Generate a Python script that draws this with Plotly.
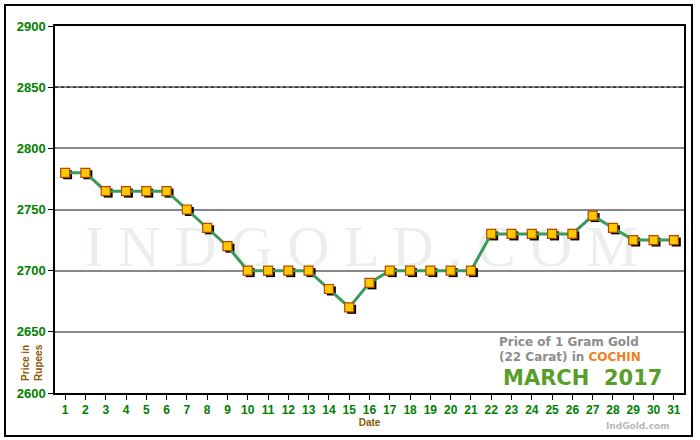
import plotly.graph_objects as go

days = list(range(1, 32))
prices = [2780, 2780, 2765, 2765, 2765, 2765, 2750, 2735, 2720, 2700,
          2700, 2700, 2700, 2685, 2670, 2690, 2700, 2700, 2700, 2700,
          2700, 2730, 2730, 2730, 2730, 2730, 2745, 2735, 2725, 2725, 2725]
y_ticks = [2600, 2650, 2700, 2750, 2800, 2850, 2900]
x_labels = [str(d) for d in days]
watermark_pos = (15.6, 2716)

fig = go.Figure()
# watermark (drawn first so it sits beneath the data)
fig.add_trace(go.Scatter(
    x=[watermark_pos[0]], y=[watermark_pos[1]], mode="text", text=["I N D G O L D . C O M"],
    textposition="middle center",
    textfont=dict(family="Liberation Serif, Times New Roman", size=58, color="#ebefeb"),
    hoverinfo="skip", showlegend=False))
# marker shadow
fig.add_trace(go.Scatter(
    x=[d + 0.12 for d in days], y=[p - 1.6 for p in prices], mode="markers",
    marker=dict(symbol="square", size=9, color="black", line=dict(width=0)),
    hoverinfo="skip", showlegend=False))
fig.add_trace(go.Scatter(
    x=days, y=prices, mode="lines",
    line=dict(color="#3a9a5c", width=3), showlegend=False))
fig.add_trace(go.Scatter(
    x=days, y=prices, mode="markers",
    marker=dict(symbol="square", size=9, color="#ffc800",
                line=dict(color="#b04a00", width=1.2)),
    showlegend=False))

fig.update_layout(
    width=700, height=440,
    margin=dict(l=55, r=16, t=26, b=47, autoexpand=False),
    paper_bgcolor="white", plot_bgcolor="white",
    font=dict(family="Liberation Sans, Arial", size=12),
    xaxis=dict(range=[0.5, 31.5], tickmode="array", tickvals=days, ticktext=x_labels,
               showgrid=False, zeroline=False, showline=True, linecolor="black",
               linewidth=1.5, mirror=True, ticks="outside", ticklen=5, tickcolor="black",
               tickfont=dict(color="#008000", size=12, weight="bold"),
               title=dict(text="Date", font=dict(color="#8b5a00", size=10, weight="bold"), standoff=3)),
    yaxis=dict(range=[2600, 2900], tickmode="array", tickvals=y_ticks,
               ticktext=[str(v) for v in y_ticks],
               showgrid=True, gridcolor="#888888", gridwidth=2, zeroline=False,
               showline=True, linecolor="black", linewidth=1.5, mirror=True,
               ticks="outside", ticklen=5, tickcolor="black",
               tickfont=dict(color="#008000", size=13, weight="bold")),
)

# dotted 2850 line
fig.add_shape(type="line", xref="paper", x0=0, x1=1, y0=2850, y1=2850, yref="y",
              line=dict(color="black", width=1, dash="dot"), layer="above")
# y title
fig.add_annotation(x=-0.037, y=0.084, xref="paper", yref="paper", xanchor="center", yanchor="middle",
                   text="Price in<br>Rupees", textangle=-90, showarrow=False,
                   font=dict(color="#8b5a00", size=10, weight="bold"))
# legend block
fig.add_annotation(x=0.817, y=0.138, xref="paper", yref="paper", xanchor="center", yanchor="middle",
                   text="Price of 1 Gram Gold", showarrow=False,
                   font=dict(color="#8c8c8c", size=12, weight="bold", family="DejaVu Sans"))
fig.add_annotation(x=0.818, y=0.097, xref="paper", yref="paper", xanchor="center", yanchor="middle",
                   text="(22 Carat) in <span style='color:#f08020'>COCHIN</span>", showarrow=False,
                   font=dict(color="#8c8c8c", size=12, weight="bold", family="DejaVu Sans"))
fig.add_annotation(x=0.838, y=0.040, xref="paper", yref="paper", xanchor="center", yanchor="middle",
                   text="MARCH  2017", showarrow=False,
                   font=dict(color="#5a9e2a", size=21, weight="bold", family="DejaVu Sans"))
fig.add_annotation(x=0.981, y=-0.09, xref="paper", yref="paper", xanchor="right", yanchor="middle",
                   text="IndGold.com", showarrow=False,
                   font=dict(color="#b8b8b8", size=9, weight="bold", family="DejaVu Sans"))
# outer border
fig.add_shape(type="rect", xref="paper", yref="paper",
              x0=(5 - 55) / 629, x1=(692 - 55) / 629, y0=(393 - 436) / 367, y1=(393 - 5) / 367,
              line=dict(color="black", width=2))

fig.write_html("out.html", config={"displayModeBar": False},
               post_script="document.body.style.margin='0';document.body.style.padding='0';")
